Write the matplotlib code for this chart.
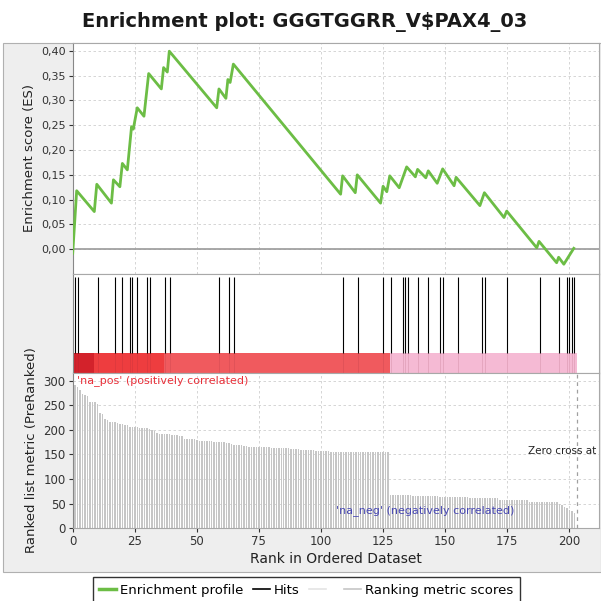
import matplotlib
matplotlib.use("Agg")
import matplotlib.pyplot as plt
from matplotlib.patches import Rectangle
from matplotlib.lines import Line2D
from matplotlib.ticker import FuncFormatter, MultipleLocator

TITLE = "Enrichment plot: GGGTGGRR_V$PAX4_03"

# running enrichment score: vertices
ES_RANK = [0, 1.6, 8.7, 9.7, 15.6, 16.4, 19.0, 20.0, 22.0, 23.7, 24.4, 26.0,
           28.7, 30.6, 35.7, 36.6, 38.1, 38.9, 58.0, 58.9, 61.7, 62.5, 63.4,
           64.7, 107.9, 108.7, 113.8, 114.6, 124.0, 125.0, 126.5, 127.7, 131.5,
           134.5, 138.0, 138.9, 142.2, 143.2, 146.8, 149.0, 153.6, 154.4, 164.0,
           165.8, 173.7, 174.8, 186.9, 187.8, 194.9, 195.7, 197.8, 201.8]
ES_VALUE = [-0.008, 0.118, 0.076, 0.131, 0.093, 0.140, 0.126, 0.173, 0.160,
            0.247, 0.242, 0.285, 0.268, 0.354, 0.323, 0.366, 0.357, 0.399,
            0.285, 0.323, 0.304, 0.342, 0.336, 0.373, 0.111, 0.148, 0.114,
            0.150, 0.093, 0.127, 0.116, 0.148, 0.124, 0.166, 0.146, 0.161,
            0.144, 0.158, 0.133, 0.162, 0.128, 0.145, 0.088, 0.114, 0.064,
            0.077, 0.003, 0.016, -0.027, -0.016, -0.030, 0.002]
ES_TICKS = [0.0, 0.05, 0.10, 0.15, 0.20, 0.25, 0.30, 0.35, 0.40]

# positions of the gene set members in the ranked list
HIT_RANKS = [1, 2, 10, 17, 20, 23, 24, 26, 30, 31, 37, 39, 59, 63, 65, 109,
             115, 125, 128, 133, 134, 135, 139, 143, 148, 149, 155, 165, 166,
             175, 188, 196, 199, 200, 201, 202]

# ranked list metric, one value per rank (0..202)
METRIC = [
    298, 292, 287, 280, 273, 270, 268, 257, 257, 256,
    252, 235, 232, 222, 219, 216, 215, 215, 214, 212,
    211, 210, 210, 206, 205, 205, 205, 204, 203, 203,
    203, 202, 200, 197, 193, 192, 191, 191, 191, 191,
    190, 190, 189, 188, 187, 182, 181, 181, 181, 181,
    180, 178, 177, 177, 177, 177, 177, 176, 176, 176,
    175, 175, 174, 173, 172, 170, 169, 169, 169, 168,
    167, 166, 166, 165, 165, 165, 165, 165, 165, 165,
    164, 164, 164, 164, 164, 163, 163, 163, 162, 162,
    161, 161, 160, 160, 160, 159, 159, 159, 157, 157,
    157, 157, 157, 157, 156, 156, 156, 156, 156, 156,
    154, 154, 154, 154, 154, 154, 154, 154, 154, 154,
    154, 154, 154, 154, 154, 154, 154, 154,
    68, 68, 68, 68, 68, 68, 68, 68, 68,
    66, 66, 66, 66, 66, 66, 66, 66, 66, 66, 66,
    64, 64, 64, 64, 64, 64, 64, 64, 64, 64, 64, 64,
    61, 61, 61, 61, 61, 61, 61, 61, 61, 61, 61, 61,
    57, 57, 57, 57, 57, 57, 57, 57, 57, 57, 57, 57,
    53, 53, 53, 53, 53, 53, 53, 53, 53, 53, 53, 53,
    50, 47, 44, 41, 38, 35, 31,
]
RANKS = list(range(len(METRIC)))

# colour bar under the hits (rank boundaries and colours)
BAND_EDGES = [0, 8.4, 36.6, 127.7, 203]
BAND_COLORS = ["#d3222b", "#ee3d3f", "#f05a5e", "#f5bad4"]

ZERO_CROSS = 203
X_TICKS = [0, 25, 50, 75, 100, 125, 150, 175, 200]

W = 601


def fx(px):
    return px / W


def fy(py):
    return 1 - py / W


fig = plt.figure(figsize=(6.01, 6.01), dpi=100)
fig.patch.set_facecolor("white")
# grey panel behind the three plots
fig.patches.append(Rectangle((fx(3), fy(572)), fx(598), fy(43) - fy(572),
                             transform=fig.transFigure, facecolor="#eeeeee",
                             edgecolor="#b0b0b0", lw=0.8, zorder=-10))

left, right = 72.7, 599
ax_es = fig.add_axes([fx(left), fy(274), fx(right - left), fy(43) - fy(274)])
ax_hit = fig.add_axes([fx(left), fy(372.5), fx(right - left), fy(274) - fy(372.5)])
ax_rk = fig.add_axes([fx(left), fy(528.3), fx(right - left), fy(372.5) - fy(528.3)])

xmax = (right - left) / 2.483
grid_kw = dict(color="#cfcfcf", lw=0.6, ls=(0, (3, 3)))

# ── enrichment score panel ────────────────────────────────────────────────
ax_es.plot(ES_RANK, ES_VALUE, color="#6cbd45", lw=2.0, zorder=3)
ax_es.axhline(0, color="#9a9a9a", lw=1.2, zorder=2)
ax_es.set_xlim(0, xmax)
ax_es.set_ylim(-0.0497, 0.4155)
ax_es.set_yticks(ES_TICKS)
ax_es.yaxis.set_major_formatter(FuncFormatter(lambda v, p: f"{v:.2f}".replace(".", ",")))
ax_es.set_xticks(X_TICKS)
ax_es.tick_params(axis="x", length=0, labelbottom=False)
ax_es.tick_params(axis="y", labelsize=8, colors="#333333", length=3, pad=2)
ax_es.grid(True, **grid_kw)
ax_es.set_ylabel("Enrichment score (ES)", fontsize=9.5, color="#222222", labelpad=4)

# ── hits + colour bar ─────────────────────────────────────────────────────
bar_top = 0.203
for i, c in enumerate(BAND_COLORS):
    ax_hit.axvspan(BAND_EDGES[i], BAND_EDGES[i + 1], ymin=0, ymax=bar_top,
                   color=c, lw=0, zorder=1)
ax_hit.vlines(HIT_RANKS, bar_top, 0.97, color="black", lw=0.8, zorder=3)
ax_hit.vlines(HIT_RANKS, 0, bar_top, color="#7a2030", lw=0.6, alpha=0.15, zorder=2)
ax_hit.set_xlim(0, xmax)
ax_hit.set_ylim(0, 1)
ax_hit.set_xticks([])
ax_hit.set_yticks([])

# ── ranked list metric ────────────────────────────────────────────────────
ax_rk.bar(RANKS, METRIC, width=0.6, color="#c6c6c6", lw=0, zorder=2)
ax_rk.axvline(ZERO_CROSS, color="#a0a0a0", lw=0.9, ls=(0, (3, 3)), zorder=3)
ax_rk.set_xlim(0, xmax)
ax_rk.set_ylim(0, 316.5)
ax_rk.set_xticks(X_TICKS)
ax_rk.yaxis.set_major_locator(MultipleLocator(50))
ax_rk.tick_params(labelsize=8.5, colors="#333333", length=3, pad=2)
ax_rk.grid(True, **grid_kw)
ax_rk.set_axisbelow(True)
ax_rk.set_xlabel("Rank in Ordered Dataset", fontsize=10, color="#222222", labelpad=3)
ax_rk.set_ylabel("Ranked list metric (PreRanked)", fontsize=9.5, color="#222222", labelpad=4)
ax_rk.text(1.6, 301, "'na_pos' (positively correlated)", color="#e8303a",
           fontsize=8, va="center", ha="left", zorder=4)
ax_rk.text(106, 37, "'na_neg' (negatively correlated)", color="#4848b4",
           fontsize=8, va="center", ha="left", zorder=4)
ax_rk.text(183.2, 157, "Zero cross at", color="#222222",
           fontsize=7.5, va="center", ha="left", zorder=4)

for ax in (ax_es, ax_hit, ax_rk):
    ax.set_facecolor("white")
    for s in ax.spines.values():
        s.set_color("#a8a8a8")
        s.set_linewidth(0.8)
    ax.spines["left"].set_color("#888888")

fig.text(fx(305), fy(22), TITLE, ha="center", va="center",
         fontsize=14, fontweight="bold", color="#1a1a1a")

handles = [
    Line2D([], [], color="#6cbd45", lw=2.5),
    Line2D([], [], color="black", lw=1.2),
    Line2D([], [], color="#e4e4e4", lw=1.2),
    Line2D([], [], color="#c6c6c6", lw=1.2),
]
labels = ["Enrichment profile", "Hits", " ", "Ranking metric scores"]
leg = fig.legend(handles, labels, loc="upper left",
                 bbox_to_anchor=(fx(92.7), fy(577)), borderaxespad=0,
                 ncol=4, fontsize=9.5, frameon=True, fancybox=False,
                 edgecolor="black", handlelength=1.3, handletextpad=0.3,
                 columnspacing=0.7, borderpad=0.5)
leg.get_frame().set_linewidth(1.0)

fig.savefig("out.png", dpi=100, facecolor=fig.get_facecolor())
